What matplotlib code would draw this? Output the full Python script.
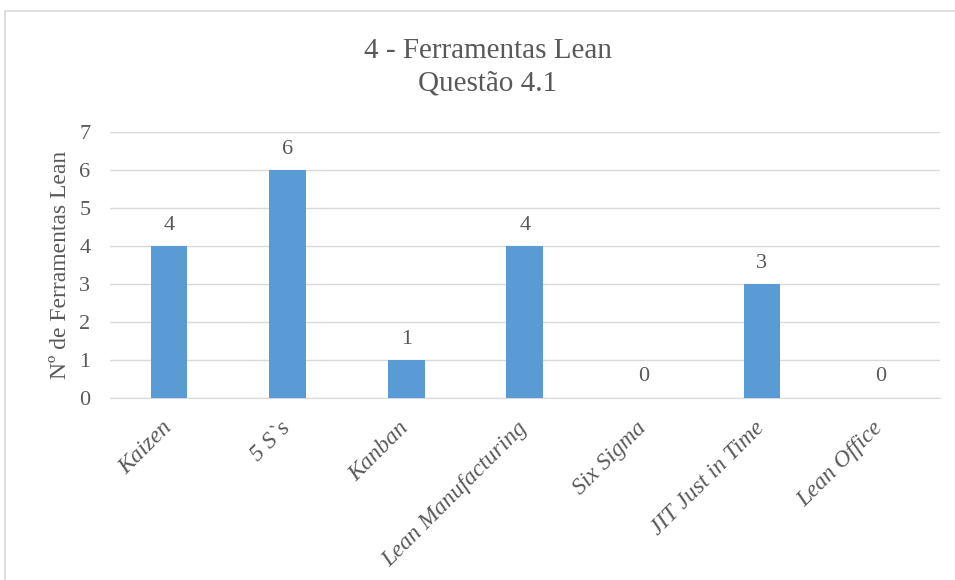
import matplotlib
matplotlib.use('Agg')
from matplotlib import pyplot as plt
from matplotlib.patches import Rectangle
import matplotlib.transforms as mtransforms

categorias = ['Kaizen', '5 S`s', 'Kanban', 'Lean Manufacturing', 'Six Sigma',
              'JIT Just in Time', 'Lean Office']
valores = [4, 6, 1, 4, 0, 3, 0]

plt.rcParams['font.family'] = ['Liberation Serif', 'DejaVu Serif']
cor_texto = '#595959'

fig = plt.figure(figsize=(9.55, 5.8), dpi=100)
ax = fig.add_axes([0.115, 0.314, 0.869, 0.458])

# moldura do gráfico
fig.patches.append(Rectangle((5 / 955, -0.1), 1.1, 1 - 11 / 580 + 0.1,
                             transform=fig.transFigure, fill=False,
                             edgecolor='#d9d9d9', linewidth=1.2))

x = range(len(categorias))
barras = ax.bar(x, valores, width=0.31, color='#5b9bd5', zorder=3)
for xi, v in zip(x, valores):
    ax.text(xi, v + 0.3, str(v), ha='center', va='bottom', fontsize=16,
            color=cor_texto)

ax.set_xlim(-0.5, len(categorias) - 0.5)
ax.set_ylim(0, 7)
ax.set_yticks(range(8))
ax.grid(axis='y', color='#d9d9d9', linewidth=1, zorder=0)
for s in ['top', 'right', 'left']:
    ax.spines[s].set_visible(False)
ax.spines['bottom'].set_color('#d9d9d9')
ax.tick_params(axis='both', length=0, labelsize=16, labelcolor=cor_texto)
ax.tick_params(axis='y', pad=14)
ax.set_xticks(list(x))
ax.set_xticklabels(categorias, rotation=45, ha='right', va='top',
                   rotation_mode='anchor', style='italic', fontsize=17)
ax.tick_params(axis='x', pad=12)
# desloca um pouco os rótulos para a esquerda/baixo
desl = mtransforms.ScaledTranslation(-0.08, -0.03, fig.dpi_scale_trans)
for lbl in ax.get_xticklabels():
    lbl.set_transform(lbl.get_transform() + desl)
ax.set_ylabel('Nº de Ferramentas Lean', fontsize=17, color=cor_texto, labelpad=6)

fig.text(0.511, 0.884, '4 - Ferramentas Lean\nQuestão 4.1', ha='center',
         va='center', fontsize=21, color=cor_texto, linespacing=1.3)

plt.savefig('out.png')
